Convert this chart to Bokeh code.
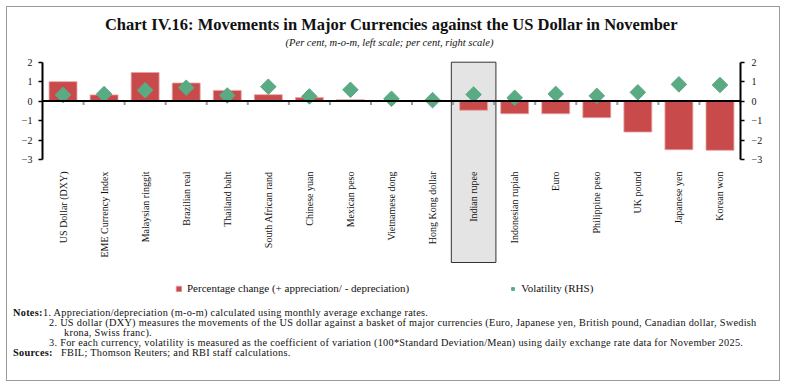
import math
from bokeh.plotting import figure
from bokeh.layouts import column
from bokeh.models import (ColumnDataSource, LinearAxis, Range1d, FixedTicker, Label,
                          Legend, LegendItem, Span, Div)
from bokeh.transform import dodge
from bokeh.core.properties import value
from bokeh.embed import file_html
from bokeh.resources import INLINE

# ---------------- data ----------------
categories = ["US Dollar (DXY)", "EME Currency Index", "Malaysian ringgit", "Brazilian real",
              "Thailand baht", "South African rand", "Chinese yuan", "Mexican peso",
              "Vietnamese dong", "Hong Kong dollar", "Indian rupee", "Indonesian rupiah",
              "Euro", "Philippine peso", "UK pound", "Japanese yen", "Korean won"]
pct_change = [1.0, 0.32, 1.47, 0.93, 0.55, 0.33, 0.18, 0.07, 0.0, 0.01,
              -0.47, -0.65, -0.65, -0.85, -1.59, -2.50, -2.53]
volatility = [0.32, 0.36, 0.56, 0.69, 0.29, 0.74, 0.24, 0.58, 0.12, 0.05,
              0.34, 0.17, 0.37, 0.27, 0.45, 0.86, 0.83]
highlight = ["Indian rupee"]
axis_ticks = [-3, -2, -1, 0, 1, 2]

title_text = "Chart IV.16: Movements in Major Currencies against the US Dollar in November"
subtitle_text = "(Per cent, m-o-m, left scale; per cent, right scale)"
legend_labels = ["Percentage change (+ appreciation/ - depreciation)", "Volatility (RHS)"]
notes = [
    "1. Appreciation/depreciation (m-o-m) calculated using monthly average exchange rates.",
    "2. US dollar (DXY) measures the movements of the US dollar against a basket of major currencies (Euro, Japanese yen, British pound, Canadian dollar, Swedish",
    "krona, Swiss franc).",
    "3. For each currency, volatility is measured as the coefficient of variation (100*Standard Deviation/Mean) using daily exchange rate data for November 2025.",
]
sources = "FBIL; Thomson Reuters; and RBI staff calculations."

# ---------------- layout constants (page pixels) ----------------
OFF = 7                      # page offset of the chart box
W = 772
MAIN_TOP, MAIN_BOTTOM, BOX_BOTTOM = 7, 300, 380
LEFT, RIGHT = 35, 39
PPU = 19.45                  # pixels per unit on the value axes
Y2_PAGE = 61.7               # page y of value 2

def yval(page_y):
    return 2 - (page_y - Y2_PAGE) / PPU

Y_END, Y_START = yval(MAIN_TOP), yval(MAIN_BOTTOM)

SERIF = "Liberation Serif"
TXT = "#111111"
BAR_COLOR = "#c94a4b"
DIA_COLOR = "#5aab84"

def sx(page_x):
    return page_x - OFF - LEFT

def sy(page_y):
    return MAIN_BOTTOM - page_y

src = ColumnDataSource(data=dict(cat=categories, pct=pct_change, vol=volatility))
hl_src = ColumnDataSource(data=dict(cat=highlight))

p = figure(width=W, height=MAIN_BOTTOM - MAIN_TOP, x_range=categories,
           y_range=Range1d(Y_START, Y_END),
           output_backend="svg", toolbar_location=None,
           x_axis_location=None, y_axis_location=None,
           min_border_left=LEFT, min_border_right=RIGHT,
           min_border_top=0, min_border_bottom=0,
           background_fill_color="white", border_fill_color="white")
p.outline_line_color = None
p.grid.visible = False
p.extra_y_ranges = {"rhs": Range1d(Y_START, Y_END)}

# highlight box for Indian rupee
p.vbar(x="cat", top=2, bottom=yval(262), width=1.086, source=hl_src,
       fill_color="#e4e4e4", line_color="#333333", line_width=1)

# bars
bars = p.vbar(x="cat", top="pct", bottom=0, width=0.68, source=src,
              fill_color=BAR_COLOR, line_color="#e7a3a3", line_width=0.8)

# zero line
p.add_layout(Span(location=0, dimension="width", line_color="black", line_width=2))

# small category boundary ticks on the zero line
p.segment(x0=dodge("cat", 0.5, range=p.x_range), y0=0,
          x1=dodge("cat", 0.5, range=p.x_range), y1=-0.2,
          source=src, line_color="#9a9a9a", line_width=2)

# volatility diamonds
dia = p.scatter(x="cat", y="vol", source=src, marker="square", angle=math.pi / 4,
                size=11, fill_color=DIA_COLOR, line_color=DIA_COLOR,
                y_range_name="rhs")

# category labels (rotated)
p.text(x="cat", y=yval(171), text="cat", source=src, angle=math.pi / 2,
       text_align="right", text_baseline="middle",
       text_font=value(SERIF), text_font_size="10px", text_color=TXT)

# axes
def style_axis(ax, standoff):
    ax.bounds = (-3, 2)
    ax.ticker = FixedTicker(ticks=axis_ticks)
    ax.axis_line_width = 2
    ax.axis_line_color = "black"
    ax.major_tick_in = 0
    ax.major_tick_out = 4
    ax.major_tick_line_color = "black"
    ax.major_tick_line_width = 1.5
    ax.minor_tick_out = 0
    ax.minor_tick_in = 0
    ax.major_label_text_font = SERIF
    ax.major_label_text_font_size = "10px"
    ax.major_label_text_color = TXT
    ax.major_label_standoff = standoff

left_axis = LinearAxis()
style_axis(left_axis, 6)
p.add_layout(left_axis, "left")
right_axis = LinearAxis(y_range_name="rhs")
style_axis(right_axis, 7)
p.add_layout(right_axis, "right")

# legend
legend = Legend(items=[LegendItem(label=legend_labels[0], renderers=[bars]),
                       LegendItem(label=legend_labels[1], renderers=[dia])],
                orientation="horizontal", location=(sx(175), 6),
                glyph_width=7, glyph_height=7, label_standoff=5, spacing=100,
                padding=0, margin=0, label_height=12,
                label_text_font=SERIF, label_text_font_size="11px",
                label_text_color=TXT,
                background_fill_alpha=0, border_line_color=None)
p.add_layout(legend, "center")

# title & subtitle
p.add_layout(Label(x=sx(391), y=sy(24), x_units="screen", y_units="screen",
                   text=title_text, text_align="center", text_baseline="middle",
                   text_font=SERIF, text_font_style="bold", text_font_size="16.5px",
                   text_color=TXT))
p.add_layout(Label(x=sx(389), y=sy(42), x_units="screen", y_units="screen",
                   text=subtitle_text, text_align="center", text_baseline="middle",
                   text_font=SERIF, text_font_style="italic", text_font_size="10.5px",
                   text_color=TXT))

# ---------------- notes panel ----------------
NH = BOX_BOTTOM - MAIN_BOTTOM
NOTE_FS = 10.3
LINE_H = 10

def span(px, py, txt, bold=False):
    weight = "bold" if bold else "normal"
    return (f'<div style="position:absolute;left:{px - OFF}px;top:{py - MAIN_BOTTOM - LINE_H / 2}px;'
            f'height:{LINE_H}px;line-height:{LINE_H}px;white-space:nowrap;'
            f'font-weight:{weight};">{txt}</div>')

html = "".join([
    span(13, 313, "Notes:", bold=True),
    span(43, 313, notes[0]),
    span(49, 323, notes[1]),
    span(64, 333, notes[2]),
    span(49, 343, notes[3]),
    span(13, 353, "Sources:", bold=True),
    span(61, 353, sources),
])
notes_div = Div(text=(f'<div style="position:relative;width:{W}px;height:{NH}px;'
                      f"font-family:'{SERIF}';font-size:{NOTE_FS}px;letter-spacing:0.28px;"
                      f'color:{TXT};">{html}</div>'),
                width=W, height=NH, styles={"margin": "0", "padding": "0"})

layout = column(p, notes_div, spacing=0,
                styles={"margin-left": f"{OFF}px", "margin-top": f"{OFF}px",
                        "outline": "1.5px solid #9a9a9a"})

open("out.html", "w").write(file_html(layout, INLINE))
